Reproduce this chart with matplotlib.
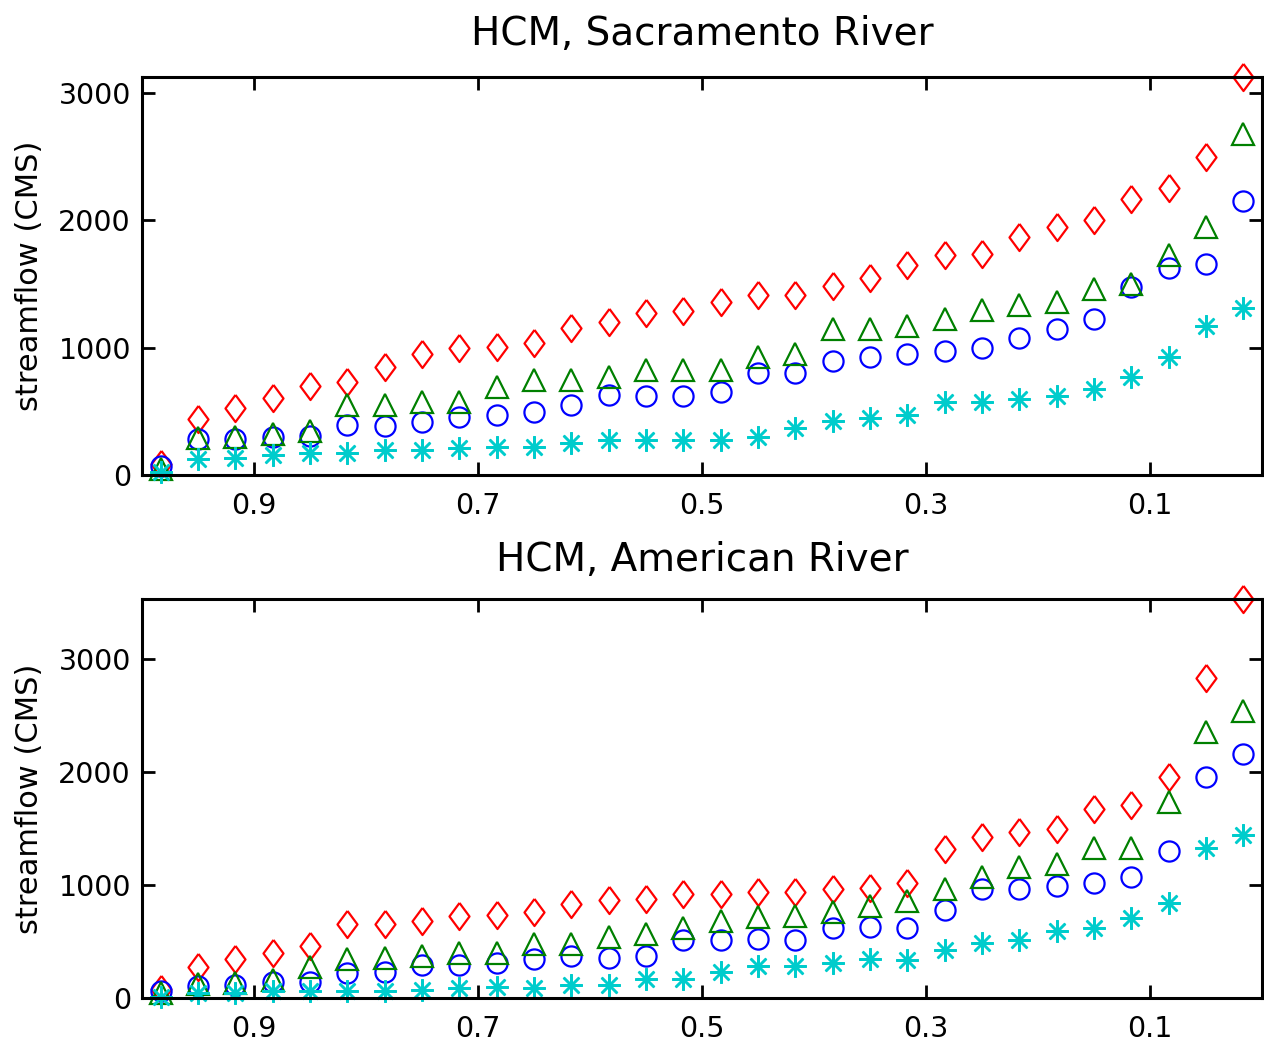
import numpy as np
import matplotlib
matplotlib.use("Agg")
import matplotlib.pyplot as plt

# exceedance probability of each ranked value
exceed = [0.983, 0.950, 0.917, 0.883, 0.850, 0.817, 0.783, 0.750, 0.717, 0.683,
          0.650, 0.617, 0.583, 0.550, 0.517, 0.483, 0.450, 0.417, 0.383, 0.350,
          0.317, 0.283, 0.250, 0.217, 0.183, 0.150, 0.117, 0.083, 0.050, 0.017]

# Sacramento River (CMS)
sac_red = [90, 440, 526, 605, 699, 730, 848, 950, 998, 1005, 1037, 1155, 1202, 1273, 1288,
           1359, 1414, 1414, 1485, 1548, 1650, 1728, 1736, 1870, 1948, 2003, 2168, 2254, 2498, 3126]
sac_green = [50, 290, 298, 322, 346, 550, 550, 573, 573, 691, 746, 746, 770, 825, 825,
             825, 927, 950, 1147, 1147, 1170, 1225, 1296, 1335, 1359, 1461, 1500, 1728, 1948, 2679]
sac_blue = [70, 283, 285, 300, 310, 393, 385, 416, 455, 471, 495, 550, 628, 620, 620,
            652, 801, 801, 896, 927, 950, 974, 998, 1076, 1147, 1225, 1477, 1626, 1657, 2152]
sac_cyan = [20, 126, 133, 157, 173, 173, 196, 196, 212, 220, 220, 251, 275, 275, 275,
            275, 298, 369, 424, 448, 471, 573, 573, 597, 620, 675, 770, 927, 1170, 1312]

# American River (CMS)
am_red = [80, 275, 346, 399, 461, 657, 657, 683, 728, 737, 763, 834, 870, 879, 923,
          923, 941, 941, 967, 976, 1020, 1322, 1420, 1473, 1491, 1668, 1704, 1952, 2830, 3530]
am_green = [40, 124, 133, 160, 275, 346, 355, 373, 399, 399, 479, 479, 541, 568, 621,
            683, 719, 728, 763, 816, 861, 967, 1074, 1162, 1189, 1331, 1331, 1730, 2351, 2538]
am_blue = [60, 110, 115, 140, 142, 222, 231, 293, 293, 311, 346, 373, 355, 373, 515,
           515, 524, 515, 621, 630, 621, 781, 967, 967, 994, 1020, 1074, 1304, 1952, 2156]
am_cyan = [10, 44, 44, 62, 62, 62, 62, 71, 89, 98, 89, 115, 115, 169, 169,
           231, 284, 284, 311, 346, 337, 426, 488, 515, 595, 621, 710, 843, 1331, 1446]

xticks = [0.9, 0.7, 0.5, 0.3, 0.1]
yticks = [0, 1000, 2000, 3000]

# matlab-like elongated diamond
diamond = [(0, 1), (0.74, 0), (0, -1), (-0.74, 0), (0, 1)]


def panel(ax, red, blue, green, cyan, title, pad):
    ax.plot(exceed, red, linestyle='none', marker=diamond, ms=19.5, mfc='none',
            mec='#FF0000', mew=1.6, clip_on=False)
    ax.plot(exceed, blue, linestyle='none', marker='o', ms=14.5, mfc='none',
            mec='#0000FF', mew=1.6, clip_on=False)
    ax.plot(exceed, green, linestyle='none', marker='^', ms=15.5, mfc='none',
            mec='#008000', mew=1.6, clip_on=False)
    ax.plot(exceed, cyan, linestyle='none', marker=(8, 2, 0), ms=16, mfc='none',
            mec='#00CCCC', mew=1.8, clip_on=False)
    ax.set_xlim(1, 0)
    ax.set_ylim(0, max(red + blue + green + cyan))
    ax.set_xticks(xticks)
    ax.set_xticklabels([str(t) for t in xticks])
    ax.set_yticks(yticks)
    ax.tick_params(direction='in', length=9.5, width=2, labelsize=20.5,
                   top=True, right=True)
    ax.tick_params(axis='x', pad=12)
    ax.tick_params(axis='y', pad=8)
    for s in ax.spines.values():
        s.set_linewidth(2.2)
    ax.set_ylabel('streamflow (CMS)', fontsize=22, labelpad=10)
    ax.set_title(title, fontsize=28, pad=pad)


fig = plt.figure(figsize=(12.64, 10.45), dpi=100)
ax1 = fig.add_axes([142 / 1264, 1 - 475 / 1045, 1120 / 1264, 398 / 1045])
ax2 = fig.add_axes([142 / 1264, 1 - 998 / 1045, 1120 / 1264, 399 / 1045])

panel(ax1, sac_red, sac_blue, sac_green, sac_cyan, 'HCM, Sacramento River', 23)
panel(ax2, am_red, am_blue, am_green, am_cyan, 'HCM, American River', 20)

fig.savefig('out.png', dpi=100)
